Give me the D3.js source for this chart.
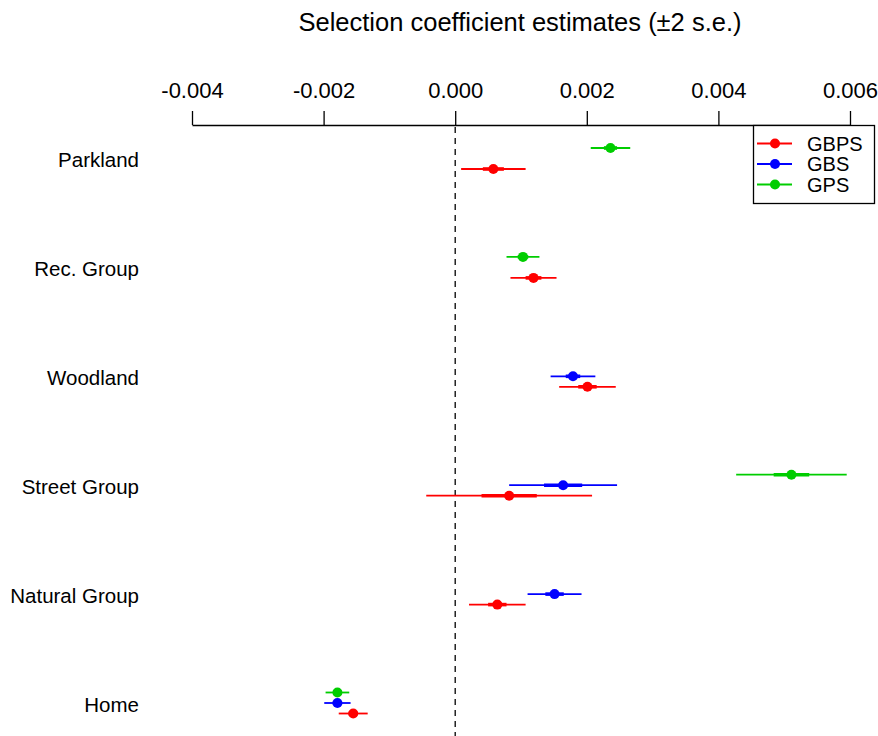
<!DOCTYPE html>
<html>
<head>
<meta charset="utf-8">
<script src="https://cdn.jsdelivr.net/npm/d3@7"></script>
<style>
  body { margin: 0; background: #fff; }
  text { font-family: "Liberation Sans", Arial, sans-serif; fill: #000; }
</style>
</head>
<body>
<div id="chart"></div>
<script>
// Coeficientes de selección por tipo de zona, tres modelos
const categories = ["Parkland", "Rec. Group", "Woodland", "Street Group", "Natural Group", "Home"];
const seriesNames = ["GBPS", "GBS", "GPS"];
const seriesColors = ["#ff0000", "#0000ff", "#00cd00"];
const tickValues = [-0.004, -0.002, 0.000, 0.002, 0.004, 0.006];

// estimate, half width of the ±2 s.e. bar, half width of the inner bar
const gbpsEst   = [0.00058, 0.00119, 0.00201, 0.00082, 0.00064, -0.00155];
const gbpsCi    = [0.00049, 0.00035, 0.00043, 0.00126, 0.00043, 0.00022];
const gbpsInner = [0.00016, 0.00012, 0.00014, 0.00042, 0.00014, 0.00007];

const gbsEst   = [null, null, 0.00179, 0.00164, 0.00151, -0.00179];
const gbsCi    = [null, null, 0.00034, 0.00082, 0.00041, 0.00020];
const gbsInner = [null, null, 0.00011, 0.00029, 0.00014, 0.00007];

const gpsEst   = [0.00236, 0.00103, null, 0.00511, null, -0.00179];
const gpsCi    = [0.00030, 0.00025, null, 0.00084, null, 0.00018];
const gpsInner = [0.00010, 0.00008, null, 0.00027, null, 0.00006];

const width = 878;
const height = 736;

const svg = d3.select("#chart")
    .append("svg")
    .attr("width", width)
    .attr("height", height);

const x = d3.scaleLinear()
    .domain([-0.004, 0.006])
    .range([192, 850]);

const y = d3.scalePoint()
    .domain(categories)
    .range([158.5, 703]);

// offset of each series inside a category row
const offset = { GBPS: 10.5, GBS: 0, GPS: -10.5 };

const rows = [];
[[gbpsEst, gbpsCi, gbpsInner], [gbsEst, gbsCi, gbsInner], [gpsEst, gpsCi, gpsInner]].forEach((s, si) => {
    categories.forEach((c, i) => {
        if (s[0][i] === null) return;
        rows.push({ cat: c, name: seriesNames[si], color: seriesColors[si], est: s[0][i], ci: s[1][i], inner: s[2][i] });
    });
});

// title
svg.append("text")
    .attr("x", 520)
    .attr("y", 31)
    .attr("text-anchor", "middle")
    .style("font-size", "25.5px")
    .text("Selection coefficient estimates (\u00b12 s.e.)");

// top axis
const axis = svg.append("g")
    .attr("transform", "translate(0,125)")
    .call(d3.axisTop(x)
        .tickValues(tickValues)
        .tickSize(14)
        .tickSizeOuter(0)
        .tickPadding(13)
        .tickFormat(d => d3.format(".3f")(d).replace("\u2212", "-")));
axis.select(".domain").attr("stroke", "#000").attr("stroke-width", 1.3);
axis.selectAll(".tick line").attr("stroke", "#000").attr("stroke-width", 1.3);
axis.selectAll(".tick text")
    .style("font-size", "22px")
    .style("font-family", "'Liberation Sans', Arial, sans-serif")
    .attr("fill", "#000");

// zero line
svg.append("line")
    .attr("x1", x(0)).attr("x2", x(0))
    .attr("y1", 127).attr("y2", height)
    .attr("stroke", "#000")
    .attr("stroke-width", 1.3)
    .attr("stroke-dasharray", "6,5");

// category labels
svg.selectAll(".cat")
    .data(categories)
    .enter()
    .append("text")
    .attr("class", "cat")
    .attr("x", 139)
    .attr("y", d => y(d) + 8.5)
    .attr("text-anchor", "end")
    .style("font-size", "20.5px")
    .text(d => d);

// error bars
const g = svg.append("g");
g.selectAll(".ci")
    .data(rows)
    .enter()
    .append("line")
    .attr("x1", d => x(d.est - d.ci))
    .attr("x2", d => x(d.est + d.ci))
    .attr("y1", d => y(d.cat) + offset[d.name])
    .attr("y2", d => y(d.cat) + offset[d.name])
    .attr("stroke", d => d.color)
    .attr("stroke-width", 1.8);

g.selectAll(".inner")
    .data(rows)
    .enter()
    .append("line")
    .attr("x1", d => x(d.est - d.inner))
    .attr("x2", d => x(d.est + d.inner))
    .attr("y1", d => y(d.cat) + offset[d.name])
    .attr("y2", d => y(d.cat) + offset[d.name])
    .attr("stroke", d => d.color)
    .attr("stroke-width", 3.6);

g.selectAll(".pt")
    .data(rows)
    .enter()
    .append("circle")
    .attr("cx", d => x(d.est))
    .attr("cy", d => y(d.cat) + offset[d.name])
    .attr("r", 5)
    .attr("fill", d => d.color);

// legend
const legend = svg.append("g");
legend.append("rect")
    .attr("x", 753.5).attr("y", 125.5)
    .attr("width", 121).attr("height", 78)
    .attr("fill", "#fff")
    .attr("stroke", "#000")
    .attr("stroke-width", 1.3);

const item = legend.selectAll(".item")
    .data(seriesNames)
    .enter()
    .append("g")
    .attr("transform", (d, i) => `translate(0,${143.5 + i * 20.5})`);
item.append("line")
    .attr("x1", 757).attr("x2", 792)
    .attr("stroke", (d, i) => seriesColors[i])
    .attr("stroke-width", 1.8);
item.append("circle")
    .attr("cx", 775)
    .attr("r", 5)
    .attr("fill", (d, i) => seriesColors[i]);
item.append("text")
    .attr("x", 807)
    .attr("y", 7)
    .style("font-size", "20px")
    .text(d => d);
</script>
</body>
</html>
